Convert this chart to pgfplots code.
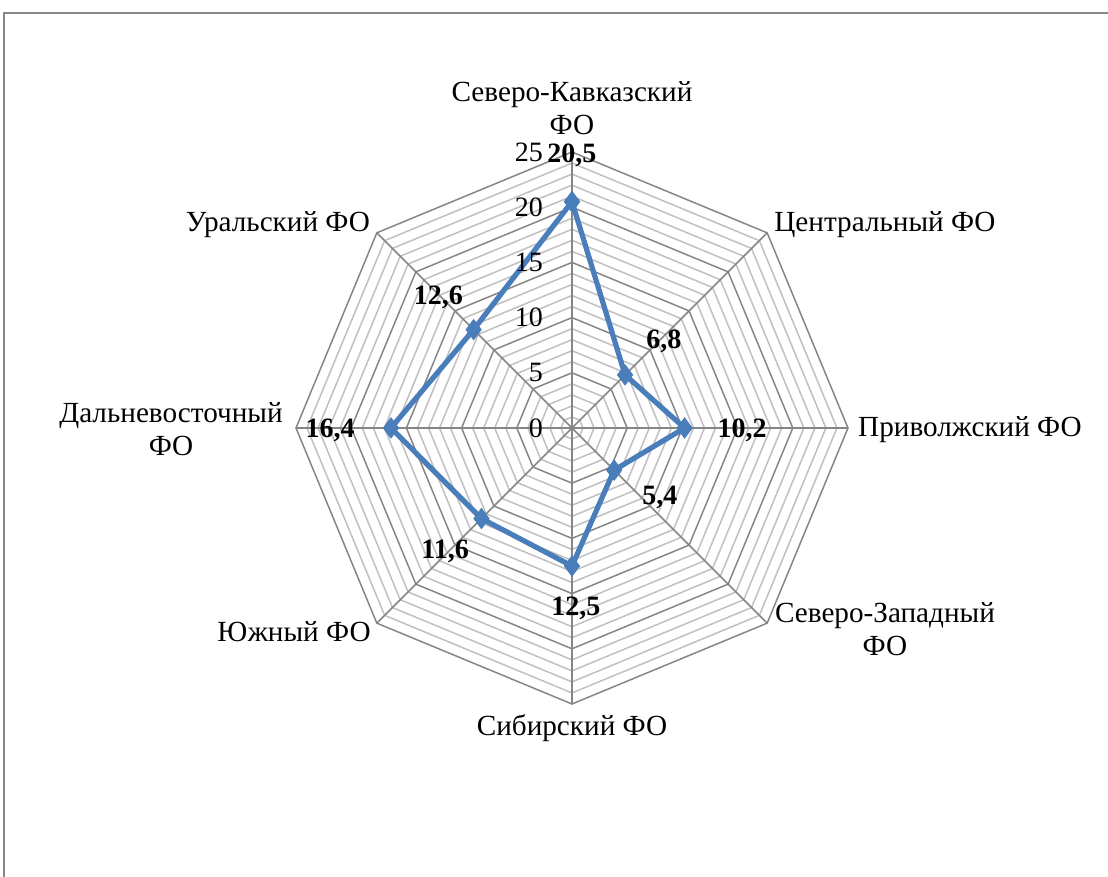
\documentclass[border=0pt]{standalone}
\usepackage{fontspec}
\setmainfont{Liberation Serif}
\usepackage{pgfplots}
\pgfplotsset{compat=1.18}
\definecolor{serblue}{HTML}{4A7EBB}
\definecolor{majgray}{HTML}{868686}
\definecolor{mingray}{HTML}{C0C0C0}
\newcommand{\lf}{\fontsize{14pt}{16.5pt}\selectfont}
\newcommand{\cf}{\fontsize{14.6pt}{16.5pt}\selectfont}
\begin{document}
\begin{tikzpicture}
\useasboundingbox (-286pt,-224.5pt) rectangle (268pt,214pt);
\draw[majgray, line width=1pt] (-284pt,-260pt) -- (-284pt,207.5pt) -- (300pt,207.5pt);
\begin{axis}[
  anchor=origin, x=5.52pt, y=5.52pt,
  xmin=-25, xmax=25, ymin=-25, ymax=25,
  hide axis, clip=false,
]
% minor grid
\pgfplotsinvokeforeach{1,2,3,4,6,7,8,9,11,12,13,14,16,17,18,19,21,22,23,24}{
  \addplot[mingray, line width=0.75pt, data cs=polar, forget plot] coordinates {(90,#1) (45,#1) (0,#1) (-45,#1) (-90,#1) (-135,#1) (-180,#1) (-225,#1) (90,#1)};
}
% major grid
\pgfplotsinvokeforeach{5,10,15,20,25}{
  \addplot[majgray, line width=0.75pt, data cs=polar, forget plot] coordinates {(90,#1) (45,#1) (0,#1) (-45,#1) (-90,#1) (-135,#1) (-180,#1) (-225,#1) (90,#1)};
}
% spokes
\pgfplotsinvokeforeach{90,45,0,-45,-90,-135,-180,-225}{
  \addplot[majgray, line width=0.75pt, data cs=polar, forget plot] coordinates {(#1,0) (#1,25)};
}
% series
\addplot[serblue, line width=2.6pt, mark=diamond*, mark size=5pt, mark options={fill=serblue, line width=0.5pt}, data cs=polar]
coordinates {(90,20.5) (45,6.8) (0,10.2) (-45,5.4) (-90,12.5) (-135,11.6) (-180,16.4) (-225,12.6) (90,20.5)};
% radial tick labels
\pgfplotsinvokeforeach{0,5,10,15,20,25}{
  \node[anchor=east, inner sep=0pt, font=\lf] at (axis cs:-2.6,#1) {#1};
}
% data labels
\node[font=\lf\bfseries] at (axis cs:0,24.7) {20,5};
\node[font=\lf\bfseries] at (axis cs:8.33,7.88) {6,8};
\node[font=\lf\bfseries] at (axis cs:15.4,-0.18) {10,2};
\node[font=\lf\bfseries] at (axis cs:7.97,-6.25) {5,4};
\node[font=\lf\bfseries] at (axis cs:0.36,-16.3) {12,5};
\node[font=\lf\bfseries] at (axis cs:-11.5,-11.14) {11,6};
\node[font=\lf\bfseries] at (axis cs:-21.9,-0.18) {16,4};
\node[font=\lf\bfseries] at (axis cs:-12.1,11.87) {12,6};
% category labels
\node[align=center, font=\cf] at (axis cs:0,28.94) {Северо-Кавказский\\ФО};
\node[font=\cf] at (axis cs:28.35,18.39) {Центральный ФО};
\node[font=\cf] at (axis cs:36.05,-0.18) {Приволжский ФО};
\node[align=center, font=\cf] at (axis cs:28.35,-18.2) {Северо-Западный\\ФО};
\node[font=\cf] at (axis cs:0,-27.17) {Сибирский ФО};
\node[font=\cf] at (axis cs:-25.18,-18.48) {Южный ФО};
\node[align=center, font=\cf] at (axis cs:-36.32,-0.09) {Дальневосточный\\ФО};
\node[font=\cf] at (axis cs:-26.63,18.39) {Уральский ФО};
\end{axis}
\end{tikzpicture}
\end{document}
